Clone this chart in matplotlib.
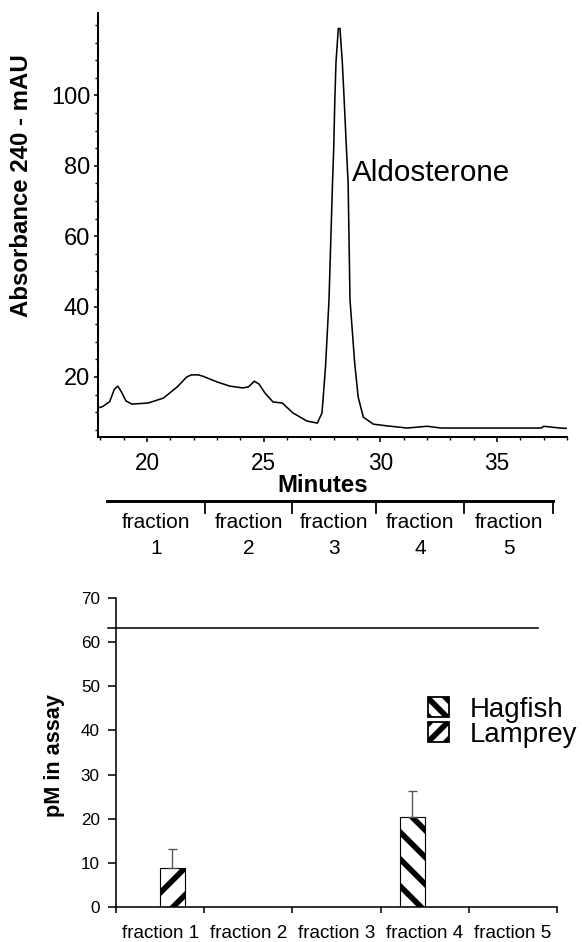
import numpy as np
import matplotlib
matplotlib.use("Agg")
import matplotlib.pyplot as plt
import matplotlib.transforms as mtransforms
from matplotlib.patches import Patch

plt.rcParams["font.family"] = ["Liberation Sans", "DejaVu Sans"]
plt.rcParams["hatch.linewidth"] = 2.5

# =========================
# DATA
# =========================
# chromatogram (minutes, absorbance 240 nm in mAU)
minutes = [17.9, 18.1, 18.4, 18.6, 18.75, 18.9, 19.1, 19.35, 20.05, 20.7, 21.3,
           21.7, 21.9, 22.2, 22.4, 23.0, 23.55, 24.1, 24.35, 24.6, 24.8, 25.05,
           25.4, 25.8, 26.25, 26.85, 27.3, 27.5, 27.65, 27.8, 27.95, 28.0, 28.05,
           28.1, 28.2, 28.27, 28.37, 28.45, 28.55, 28.62, 28.7, 28.9, 29.05,
           29.27, 29.7, 30.3, 31.15, 32.0, 32.6, 36.9, 37.0, 37.7, 38.0]
absorbance = [11.2, 11.6, 13.0, 16.5, 17.4, 15.8, 13.2, 12.3, 12.6, 14.0, 17.2,
              20.0, 20.6, 20.6, 20.2, 18.6, 17.4, 16.9, 17.2, 18.8, 18.0, 15.5,
              12.9, 12.6, 9.8, 7.5, 6.9, 9.8, 22.8, 41.9, 75.0, 84.5, 98.7,
              109.5, 119.0, 119.0, 109.5, 98.7, 84.5, 75.0, 41.9, 24.0, 14.3,
              8.6, 6.6, 6.1, 5.5, 6.0, 5.5, 5.5, 6.0, 5.5, 5.4]

# fraction boundaries on the minutes scale
fraction_edges = [18.28, 22.5, 26.2, 29.8, 33.6, 37.4]
fraction_names = ["1", "2", "3", "4", "5"]

# assay results
fractions = ["fraction 1", "fraction 2", "fraction 3", "fraction 4", "fraction 5"]
hagfish = [0, 0, 0, 20.4, 0]
hagfish_err = [0, 0, 0, 5.9, 0]
lamprey = [8.8, 0, 0, 0, 0]
lamprey_err = [4.3, 0, 0, 0, 0]
assay_limit = 63.3

# =========================
# FIGURE
# =========================
fig = plt.figure(figsize=(582 / 162, 942 / 162), dpi=162)

# ---- top: chromatogram ----
ax1 = fig.add_axes([98 / 582, 1 - 437 / 942, 469 / 582, 424 / 942])
ax1.plot(minutes, absorbance, color="black", lw=0.7)
ax1.set_xlim(17.9, 38.0)
ax1.set_ylim(2.95, 123.4)
ax1.set_xticks([20, 25, 30, 35])
ax1.set_xticks(np.arange(18, 39, 1), minor=True)
ax1.set_yticks([20, 40, 60, 80, 100])
ax1.set_yticks(np.arange(5, 125, 5), minor=True)
for s in ["top", "right"]:
    ax1.spines[s].set_visible(False)
for s in ["left", "bottom"]:
    ax1.spines[s].set_linewidth(0.9)
ax1.tick_params(axis="y", which="major", length=2, width=0.7, pad=1.5, labelsize=10.5)
ax1.tick_params(axis="y", which="minor", length=1.5, width=0.6)
ax1.tick_params(axis="x", which="major", length=2, width=0.7, pad=4.5, labelsize=10)
ax1.tick_params(axis="x", which="minor", length=1.2, width=0.6)
ax1.set_ylabel("Absorbance 240 - mAU", fontsize=10.7, fontweight="bold")
ax1.yaxis.set_label_coords(-0.139, 0.592)
ax1.set_xlabel("Minutes", fontsize=10.7, fontweight="bold")
ax1.xaxis.set_label_coords(0.48, -0.087)
ax1.text(28.8, 78, "Aldosterone", fontsize=13.2, ha="left", va="center")

# fraction scale under the time axis
trans = mtransforms.blended_transform_factory(ax1.transData, fig.transFigure)
y_line = 1 - 501 / 942
y_tick = 1 - 513 / 942
fig.add_artist(plt.Line2D([fraction_edges[0], fraction_edges[-1]], [y_line, y_line],
                          transform=trans, color="black", lw=1.3))
for e in fraction_edges[1:]:
    fig.add_artist(plt.Line2D([e, e], [y_line, y_tick], transform=trans,
                              color="black", lw=0.8))
for i, name in enumerate(fraction_names):
    xc = (fraction_edges[i] + fraction_edges[i + 1]) / 2
    fig.text(xc, 1 - 523 / 942, "fraction", transform=trans, fontsize=9.3,
             ha="center", va="center")
    fig.text(xc, 1 - 548 / 942, name, transform=trans, fontsize=9.3,
             ha="center", va="center")

# ---- bottom: assay ----
ax2 = fig.add_axes([116 / 582, 1 - 907 / 942, 441 / 582, 309 / 942])
x = np.arange(len(fractions))
w = 0.28
ax2.bar(x - w / 2, hagfish, w, color="white", edgecolor="black", hatch="\\\\",
        linewidth=0.5, label="Hagfish")
ax2.bar(x + w / 2, lamprey, w, color="white", edgecolor="black", hatch="//",
        linewidth=0.5, label="Lamprey")
for i in range(len(fractions)):
    if hagfish[i] > 0:
        ax2.errorbar(x[i] - w / 2, hagfish[i], yerr=[[0], [hagfish_err[i]]],
                     color="#555555", lw=0.6, capsize=2, capthick=0.6)
    if lamprey[i] > 0:
        ax2.errorbar(x[i] + w / 2, lamprey[i], yerr=[[0], [lamprey_err[i]]],
                     color="#555555", lw=0.6, capsize=2, capthick=0.6)

ax2.axhline(assay_limit, xmin=-0.018, xmax=0.957, color="black", lw=0.7,
            clip_on=False)
ax2.set_xlim(-0.5, len(fractions) - 0.5)
ax2.set_ylim(0, 70)
ax2.set_yticks(np.arange(0, 71, 10))
ax2.set_xticks(np.arange(-0.5, len(fractions), 1))
ax2.set_xticklabels([])
ax2.set_xticks(x, minor=True)
ax2.set_xticklabels(fractions, minor=True)
for s in ["top", "right"]:
    ax2.spines[s].set_visible(False)
for s in ["left", "bottom"]:
    ax2.spines[s].set_linewidth(0.7)
ax2.tick_params(axis="y", length=3.6, width=0.7, pad=3.6, labelsize=7.6)
ax2.tick_params(axis="x", which="major", length=2.7, width=0.7)
ax2.tick_params(axis="x", which="minor", length=0, pad=8, labelsize=8.4)
ax2.set_ylabel("pM in assay", fontsize=9.6, fontweight="bold")
ax2.yaxis.set_label_coords(-0.116, 0.49)

handles = [Patch(facecolor="white", edgecolor="black", hatch="\\\\\\", lw=0.8),
           Patch(facecolor="white", edgecolor="black", hatch="///", lw=0.8)]
ax2.legend(handles, ["Hagfish", "Lamprey"], loc="upper left",
           bbox_to_anchor=(428 / 582, 1 - 697 / 942),
           bbox_transform=fig.transFigure, frameon=False, fontsize=12.3,
           handlelength=0.75, handleheight=0.75, handletextpad=0.75,
           labelspacing=-0.05, borderpad=0, borderaxespad=0)

fig.savefig("out.png", dpi=162)
